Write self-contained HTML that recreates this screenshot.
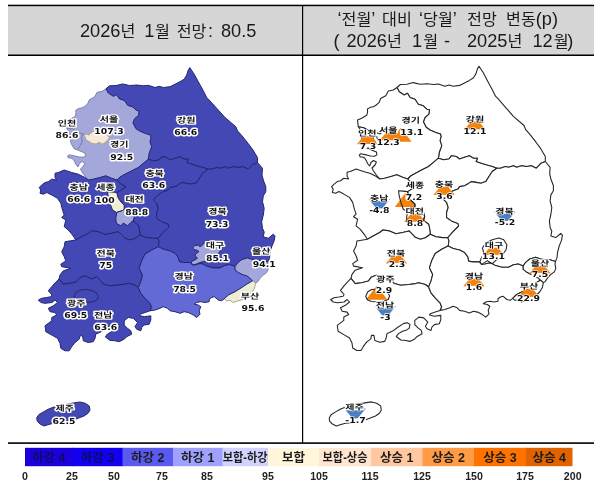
<!DOCTYPE html>
<html lang="ko"><head><meta charset="utf-8"><title>전망</title>
<style>
html,body{margin:0;padding:0;background:#fff}
svg{display:block}
.hd{font-family:"Liberation Sans","Noto Sans CJK KR",sans-serif;font-size:18.2px;fill:#1a1a1a}
.hk{font-size:16.2px}
.nm{font-family:"Liberation Sans","Noto Sans CJK KR",sans-serif;font-weight:bold;font-size:10px;fill:#111;stroke:#fff;stroke-width:3.2px;stroke-linejoin:round;paint-order:stroke;text-anchor:middle;text-rendering:geometricPrecision}
.vl{font-family:"DejaVu Sans","Liberation Sans",sans-serif;font-weight:bold;font-size:9.3px;fill:#111;stroke:#fff;stroke-width:3.2px;stroke-linejoin:round;paint-order:stroke;text-anchor:middle;text-rendering:geometricPrecision}
.lg{font-family:"Liberation Sans","Noto Sans CJK KR",sans-serif;font-weight:bold;font-size:12.5px;fill:#1c1c1c;text-anchor:middle}
.tk{font-family:"Liberation Sans","Noto Sans CJK KR",sans-serif;font-weight:bold;font-size:10.6px;fill:#222;text-anchor:middle}
.lm path{stroke-width:1;stroke-linejoin:round}
.rm path{fill:#fff;stroke:#262626;stroke-width:1.08;stroke-linejoin:round}
.r text{stroke-width:1.5px}
.ro path{fill:none}
</style></head><body>
<svg width="600" height="484" viewBox="0 0 600 484">
<rect width="600" height="484" fill="#fff"/>
<rect x="8" y="5" width="586" height="50" fill="#d6d6d6"/>
<rect x="8" y="4.7" width="586" height="1.5" fill="#000"/>
<rect x="8" y="54.5" width="586" height="1.5" fill="#000"/>
<rect x="302" y="5" width="1.2" height="438" fill="#000"/>
<rect x="8" y="442.3" width="586" height="1.6" fill="#000"/>
<text class="hd" y="37.4"><tspan x="80">2026<tspan class="hk">년</tspan></tspan> <tspan x="144.3">1<tspan class="hk" dx="0.6">월</tspan></tspan> <tspan x="176.7"><tspan class="hk">전망</tspan><tspan dx="1.5">:</tspan></tspan> <tspan x="221">80.5</tspan></text>
<text class="hd" y="24.8"><tspan x="337.5">‘<tspan class="hk">전월</tspan>’</tspan> <tspan class="hk" x="382">대비</tspan> <tspan x="419">‘<tspan class="hk">당월</tspan>’</tspan> <tspan class="hk" x="467">전망</tspan> <tspan x="506"><tspan class="hk">변동</tspan>(p)</tspan></text>
<text class="hd" y="47.4"><tspan x="333.5">(</tspan> <tspan x="346.5">2026<tspan class="hk">년</tspan></tspan> <tspan x="412">1<tspan class="hk" dx="1">월</tspan></tspan> <tspan x="444">-</tspan> <tspan x="467">2025<tspan class="hk">년</tspan></tspan> <tspan x="532.5">12<tspan class="hk" dx="1">월</tspan><tspan dx="-1.5">)</tspan></tspan></text>

<g class="lm">
<path d="M106.0 88.8L108.3 93.0L113.4 96.3L116.7 94.6L119.3 98.8L124.4 100.5L127.8 105.4L132.9 107.0L136.4 110.4L139.2 111.0L138.5 115.4L134.6 118.7L133.0 122.9L135.8 128.5L139.7 131.1L145.5 133.5L150.5 135.0L151.0 138.0L150.0 141.7L151.7 146.7L149.2 153.3L148.3 159.2L143.3 163.3L138.3 167.5L131.7 170.8L125.0 174.2L120.0 177.0L117.0 180.0L111.7 178.3L105.8 175.8L100.0 177.5L93.3 179.2L88.3 180.0L85.0 176.0L82.0 172.0L80.5 169.0L83.5 166.0L85.0 163.0L82.0 161.5L79.5 163.5L78.0 167.0L76.0 164.5L74.5 161.5L73.0 159.0L71.0 158.0L68.5 158.0L67.5 156.0L69.0 154.8L72.0 155.5L75.0 156.0L79.0 157.0L83.0 157.3L85.5 156.0L85.0 153.0L80.0 151.0L76.5 149.5L78.5 148.0L80.5 145.0L82.0 142.0L81.5 138.0L82.0 135.0L84.0 134.5L80.0 133.0L76.0 131.0L72.0 129.0L66.5 128.0L65.7 121.2L69.9 119.5L75.1 116.5L76.0 113.0L75.8 110.2L79.2 108.3L81.8 107.9L84.2 106.7L87.6 104.0L89.3 99.8L92.5 98.0L94.6 97.0L97.1 92.3L102.2 91.3Z" fill="#a3a7da" stroke="#7e80b4"/>
<path d="M66.5 128.0L72.0 129.0L76.0 131.0L80.0 133.0L84.0 134.5L82.0 135.0L81.5 138.0L82.0 142.0L80.5 145.0L78.5 148.0L76.5 149.5L74.5 149.0L72.5 146.0L71.0 143.0L70.5 140.0L69.0 135.0L68.0 130.0Z" fill="#a3a7da" stroke="#7e80b4"/>
<path d="M235.0 266.5L237.5 262.9L241.7 259.6L247.5 257.9L252.5 259.6L258.0 260.5L263.0 260.5L268.0 262.0L267.5 265.0L268.3 269.2L266.7 272.5L263.3 275.0L260.0 278.3L257.5 282.0L255.5 283.3L252.5 280.8L250.0 278.3L246.7 275.8L243.3 275.0L238.3 272.5L235.0 270.0Z" fill="#a3a7da" stroke="#7e80b4"/>
<path d="M252.5 280.8L255.5 283.3L254.5 288.3L251.7 292.5L248.0 296.0L243.0 299.5L237.5 301.0L233.3 302.5L230.0 300.3L226.5 300.8L224.2 298.8L228.3 295.0L235.0 291.7L241.7 287.5L246.7 284.2Z" fill="#eeecd2" stroke="#a9a58e"/>
<path d="M84.0 134.5L86.0 134.0L89.0 135.0L92.0 132.0L95.0 130.5L99.0 130.0L103.0 131.0L106.0 133.5L108.0 136.0L109.5 137.5L108.0 139.5L106.0 142.0L102.5 144.0L99.0 142.5L96.0 144.0L92.0 143.5L89.0 141.5L86.0 140.0L85.0 137.0Z" fill="#f6e8d6" stroke="#a9a58e"/>
<path d="M106.0 88.8L109.5 85.8L116.0 85.6L122.7 83.9L129.5 85.5L137.0 85.0L143.3 85.8L148.3 85.3L155.0 87.5L159.2 86.3L163.3 87.5L170.0 86.7L175.0 84.2L180.0 81.7L184.2 79.2L186.7 75.0L188.3 70.0L189.8 67.6L194.2 74.2L198.3 81.7L203.3 90.8L206.7 97.5L209.2 100.0L216.7 108.3L225.0 117.5L235.8 126.7L237.5 130.8L242.0 135.8L248.0 143.3L253.0 150.0L257.5 157.5L257.5 162.5L253.3 164.2L248.3 169.2L243.3 166.7L238.3 167.5L233.3 166.7L228.3 168.3L225.0 166.7L220.0 168.3L216.7 167.5L211.7 169.2L208.0 169.2L203.3 167.5L196.7 165.8L191.7 164.2L186.7 162.5L188.3 159.2L184.2 159.2L180.0 156.7L175.0 158.3L170.0 160.0L166.7 157.5L161.7 156.7L159.2 160.0L153.3 160.8L148.3 159.2L149.2 153.3L151.7 146.7L150.0 141.7L151.0 138.0L150.5 135.0L145.5 133.5L139.7 131.1L135.8 128.5L133.0 122.9L134.6 118.7L138.5 115.4L139.2 111.0L136.4 110.4L132.9 107.0L127.8 105.4L124.4 100.5L119.3 98.8L116.7 94.6L113.4 96.3L108.3 93.0Z" fill="#4448b5" stroke="#23276f"/>
<path d="M148.3 159.2L153.3 160.8L159.2 160.0L161.7 156.7L166.7 157.5L170.0 160.0L175.0 158.3L180.0 156.7L184.2 159.2L188.3 159.2L186.7 162.5L191.7 164.2L196.7 165.8L203.3 167.5L208.0 169.2L203.3 172.5L200.0 177.5L196.7 182.5L191.7 184.2L186.7 183.3L181.7 182.5L178.3 185.0L175.0 186.7L170.0 187.5L168.3 190.0L163.3 191.7L158.3 195.0L153.3 200.0L156.7 203.3L158.3 208.3L156.7 213.3L156.7 218.3L161.7 221.7L168.3 224.2L169.0 227.0L167.5 228.3L163.3 232.5L160.0 236.0L158.0 238.3L152.5 238.3L145.8 237.5L140.0 235.0L139.2 228.5L138.3 225.1L135.0 222.6L133.0 221.0L134.2 217.5L133.3 213.3L128.3 210.8L124.2 209.2L124.2 205.0L121.0 202.0L118.3 198.3L116.7 192.5L121.7 189.5L125.8 187.0L120.8 184.0L117.0 180.0L120.0 177.0L125.0 174.2L131.7 170.8L138.3 167.5L143.3 163.3Z" fill="#4448b5" stroke="#23276f"/>
<path d="M88.3 180.0L93.3 179.2L100.0 177.5L105.8 175.8L111.7 178.3L117.0 180.0L120.8 184.0L125.8 187.0L121.7 189.5L116.7 192.5L118.3 198.3L121.0 202.0L124.2 205.0L124.2 209.2L128.3 210.8L133.3 213.3L134.2 217.5L133.0 221.0L135.0 222.6L138.3 225.1L139.2 228.5L140.0 235.0L135.0 238.5L130.0 240.0L125.0 238.3L120.8 234.2L118.3 231.7L111.7 233.3L105.0 234.5L98.3 231.7L91.7 230.8L88.3 233.3L81.7 236.7L75.8 240.0L72.5 235.0L68.3 230.0L64.2 226.7L65.8 220.0L61.7 217.5L64.2 215.0L62.5 210.0L60.8 203.3L57.5 198.3L51.7 195.0L46.7 192.5L43.3 194.2L40.0 193.3L40.8 190.0L39.2 187.5L41.7 185.0L45.0 182.5L48.3 181.7L51.7 179.2L56.7 180.0L55.0 177.5L55.0 173.3L58.3 172.5L64.2 170.0L71.7 172.5L78.3 174.2L85.0 177.5Z" fill="#4448b5" stroke="#23276f"/>
<path d="M75.8 240.0L81.7 236.7L88.3 233.3L91.7 230.8L98.3 231.7L105.0 234.5L111.7 233.3L118.3 231.7L120.8 234.2L125.0 238.3L130.0 240.0L135.0 238.5L140.0 235.0L145.8 237.5L152.5 238.3L158.0 238.3L159.2 241.7L158.3 246.7L151.7 250.0L145.0 254.2L141.7 260.8L139.2 268.3L142.5 275.0L140.8 281.7L138.3 287.5L135.0 285.0L128.3 283.3L125.0 284.2L118.3 285.0L110.0 285.8L103.3 284.2L100.0 280.0L96.7 276.7L91.7 279.2L85.0 275.8L80.0 277.5L76.7 281.7L70.0 283.3L63.3 284.2L59.0 279.0L60.0 275.0L63.3 270.8L70.8 268.3L61.7 266.7L60.8 264.2L65.8 260.8L64.2 256.7L61.7 251.7L64.2 246.7L65.0 241.7Z" fill="#4448b5" stroke="#23276f"/>
<path d="M59.0 279.0L63.3 284.2L70.0 283.3L76.7 281.7L80.0 277.5L85.0 275.8L91.7 279.2L96.7 276.7L100.0 280.0L103.3 284.2L110.0 285.8L118.3 285.0L125.0 284.2L128.3 283.3L135.0 285.0L138.3 287.5L140.8 293.3L145.0 298.3L150.0 303.3L151.7 307.5L150.0 310.8L145.0 312.5L140.0 314.2L139.2 315.5L144.2 316.7L150.8 315.8L150.8 320.0L149.2 324.2L144.2 325.0L141.7 327.5L140.8 330.8L136.7 329.2L135.0 326.7L137.5 322.5L135.0 320.0L133.3 318.3L128.3 317.5L124.2 320.8L124.2 325.0L127.5 328.3L130.8 330.8L131.7 334.2L126.7 336.7L124.2 339.2L119.2 341.7L115.0 340.8L110.0 340.3L105.2 336.8L107.5 334.0L111.6 331.6L116.0 330.3L118.5 328.5L119.3 324.8L116.5 323.2L113.0 323.8L106.5 327.9L101.5 331.5L98.5 333.0L95.8 334.0L95.0 338.3L93.3 341.7L88.3 342.5L83.3 340.8L82.5 335.8L80.0 335.8L79.2 339.2L75.0 342.5L71.7 346.7L69.2 350.8L65.0 350.8L60.8 348.3L60.0 343.3L57.5 338.3L51.7 335.0L45.8 331.7L45.0 325.8L48.3 323.3L51.7 320.8L51.7 317.5L56.7 315.0L55.0 312.5L50.0 311.7L48.3 308.3L53.3 305.8L57.5 302.5L55.0 300.0L52.0 302.5L45.0 303.3L40.8 302.5L38.3 300.0L41.7 298.3L46.7 297.5L50.8 296.7L52.0 295.0L48.3 290.8L51.7 286.7L55.0 283.0Z" fill="#4448b5" stroke="#23276f"/>
<path d="M208.0 169.2L211.7 169.2L216.7 167.5L220.0 168.3L225.0 166.7L228.3 168.3L233.3 166.7L238.3 167.5L243.3 166.7L248.3 169.2L253.3 164.2L257.5 162.5L262.5 168.3L262.0 175.0L263.3 180.0L265.8 186.7L265.8 191.7L263.3 195.8L262.5 201.7L264.2 208.3L263.3 215.0L261.7 221.7L262.5 228.3L264.2 232.0L263.3 236.7L268.3 238.3L273.3 234.2L275.0 235.8L274.2 240.8L271.7 246.7L270.0 253.3L269.5 258.3L268.0 262.0L263.0 260.5L258.0 260.5L252.5 259.6L247.5 257.9L241.7 259.6L237.5 262.9L235.0 266.5L230.0 264.6L225.0 265.4L220.0 267.9L213.3 267.9L206.7 266.2L203.5 264.3L200.0 263.5L196.0 264.6L192.5 265.0L190.0 262.5L183.3 262.5L179.2 261.7L178.3 257.5L175.0 253.3L170.0 250.8L163.3 249.2L158.3 246.7L159.2 241.7L158.0 238.3L160.0 236.0L163.3 232.5L167.5 228.3L169.0 227.0L168.3 224.2L161.7 221.7L156.7 218.3L156.7 213.3L158.3 208.3L156.7 203.3L153.3 200.0L158.3 195.0L163.3 191.7L168.3 190.0L170.0 187.5L175.0 186.7L178.3 185.0L181.7 182.5L186.7 183.3L191.7 184.2L196.7 182.5L200.0 177.5L203.3 172.5Z" fill="#4448b5" stroke="#23276f"/>
<path d="M158.3 246.7L163.3 249.2L170.0 250.8L175.0 253.3L178.3 257.5L179.2 261.7L183.3 262.5L190.0 262.5L192.5 265.0L196.0 264.6L200.0 263.5L203.5 264.3L206.7 266.2L213.3 267.9L220.0 267.9L225.0 265.4L230.0 264.6L235.0 266.5L235.0 270.0L238.3 272.5L243.3 275.0L246.7 275.8L250.0 278.3L252.5 280.8L246.7 284.2L241.7 287.5L235.0 291.7L228.3 295.0L224.2 298.8L221.7 300.8L218.3 300.0L214.2 296.7L211.7 297.5L209.2 299.2L209.2 301.7L205.0 302.5L200.8 301.7L196.7 302.5L194.2 304.2L198.3 305.0L200.8 306.7L199.2 310.8L200.0 314.2L196.7 317.5L193.3 315.0L191.7 314.2L188.3 312.5L184.2 311.7L180.0 313.3L175.0 311.7L170.0 310.8L167.5 308.3L163.3 306.7L160.0 308.3L155.0 310.0L150.0 310.8L151.7 307.5L150.0 303.3L145.0 298.3L140.8 293.3L138.3 287.5L140.8 281.7L142.5 275.0L139.2 268.3L141.7 260.8L145.0 254.2L151.7 250.0Z" fill="#646ad5" stroke="#23276f"/>
<path d="M107.5 191.7L112.0 192.0L116.7 192.5L118.3 198.3L121.0 202.0L124.2 205.0L124.2 209.2L122.5 210.5L116.7 212.5L112.5 210.0L110.0 203.3L108.3 196.7Z" fill="#f1efd2" stroke="#23276f"/>
<path d="M116.7 212.5L122.5 210.5L124.2 209.2L128.3 210.8L133.3 213.3L134.2 217.5L133.0 221.0L130.8 222.5L127.5 225.8L123.3 223.0L120.8 225.8L116.3 223.3L115.8 218.3Z" fill="#a3a7da" stroke="#23276f"/>
<path d="M192.5 265.0L191.5 262.5L192.0 261.0L195.0 260.0L197.5 258.0L196.0 257.0L195.0 255.0L196.5 253.5L199.0 251.5L197.5 250.5L194.0 249.5L192.5 248.0L195.0 245.5L198.5 245.0L199.5 246.5L201.5 246.0L204.0 243.0L208.0 241.5L214.0 241.0L219.0 242.5L221.0 246.0L220.5 250.5L218.0 254.0L214.0 258.0L208.0 261.0L203.5 261.5L200.0 262.5L196.5 264.0Z" fill="#a3a7da" stroke="#23276f"/>
<path d="M74.0 297.0L76.0 292.5L80.0 290.0L86.7 289.5L92.0 290.5L96.5 293.0L98.5 296.5L97.0 300.0L92.0 302.0L86.0 302.5L80.0 302.0L76.0 300.5Z" fill="#4448b5" stroke="#23276f"/>
<path d="M36.7 418.0L38.7 414.7L43.3 412.0L48.0 409.3L54.7 406.7L61.3 405.3L68.0 404.0L74.7 402.7L80.0 402.0L85.3 403.3L89.3 406.0L90.0 410.0L88.0 413.3L84.0 416.0L78.7 418.0L73.3 420.0L66.7 421.3L60.0 422.7L53.3 423.3L48.0 424.7L44.0 426.0L40.0 424.0L37.3 421.3Z" fill="#4448b5" stroke="#23276f"/>
</g>
<text class="nm" transform="translate(67.0 123.0) scale(1 0.78)" y="3.5">인천</text><text class="vl" transform="translate(67.0 134.8) scale(1 0.88)" y="3.3">86.6</text>
<text class="nm" transform="translate(109.0 119.0) scale(1 0.78)" y="3.5">서울</text><text class="vl" transform="translate(109.0 131.5) scale(1 0.88)" y="3.3">107.3</text>
<text class="nm" transform="translate(119.2 144.3) scale(1 0.78)" y="3.5">경기</text><text class="vl" transform="translate(121.7 156.8) scale(1 0.88)" y="3.3">92.5</text>
<text class="nm" transform="translate(186.3 120.0) scale(1 0.78)" y="3.5">강원</text><text class="vl" transform="translate(185.8 132.0) scale(1 0.88)" y="3.3">66.6</text>
<text class="nm" transform="translate(154.6 173.3) scale(1 0.78)" y="3.5">충북</text><text class="vl" transform="translate(153.8 185.4) scale(1 0.88)" y="3.3">63.6</text>
<text class="nm" transform="translate(78.8 187.0) scale(1 0.78)" y="3.5">충남</text><text class="vl" transform="translate(78.8 199.5) scale(1 0.88)" y="3.3">66.6</text>
<text class="nm" transform="translate(105.4 187.5) scale(1 0.78)" y="3.5">세종</text><text class="vl" transform="translate(105.0 200.0) scale(1 0.88)" y="3.3">100</text>
<text class="nm" transform="translate(134.6 199.6) scale(1 0.78)" y="3.5">대전</text><text class="vl" transform="translate(136.7 212.5) scale(1 0.88)" y="3.3">88.8</text>
<text class="nm" transform="translate(217.5 211.2) scale(1 0.78)" y="3.5">경북</text><text class="vl" transform="translate(217.1 223.8) scale(1 0.88)" y="3.3">73.3</text>
<text class="nm" transform="translate(215.0 245.6) scale(1 0.78)" y="3.5">대구</text><text class="vl" transform="translate(217.5 257.8) scale(1 0.88)" y="3.3">85.1</text>
<text class="nm" transform="translate(261.3 251.7) scale(1 0.78)" y="3.5">울산</text><text class="vl" transform="translate(264.2 263.8) scale(1 0.88)" y="3.3">94.1</text>
<text class="nm" transform="translate(250.0 296.3) scale(1 0.78)" y="3.5">부산</text><text class="vl" transform="translate(252.9 308.0) scale(1 0.88)" y="3.3">95.6</text>
<text class="nm" transform="translate(183.8 276.3) scale(1 0.78)" y="3.5">경남</text><text class="vl" transform="translate(184.6 288.8) scale(1 0.88)" y="3.3">78.5</text>
<text class="nm" transform="translate(105.8 253.3) scale(1 0.78)" y="3.5">전북</text><text class="vl" transform="translate(105.8 265.4) scale(1 0.88)" y="3.3">75</text>
<text class="nm" transform="translate(76.3 303.0) scale(1 0.78)" y="3.5">광주</text><text class="vl" transform="translate(75.8 315.0) scale(1 0.88)" y="3.3">69.5</text>
<text class="nm" transform="translate(103.3 315.0) scale(1 0.78)" y="3.5">전남</text><text class="vl" transform="translate(105.8 326.7) scale(1 0.88)" y="3.3">63.6</text>
<text class="nm" transform="translate(64.7 408.7) scale(1 0.78)" y="3.5">제주</text><text class="vl" transform="translate(64.0 420.7) scale(1 0.88)" y="3.3">62.5</text>
<g class="rm">
<path d="M397.0 87.5L400.4 84.5L406.8 84.3L413.3 82.6L420.0 84.2L427.3 83.7L433.5 84.5L438.4 84.0L444.9 86.2L449.0 85.0L453.1 86.2L459.6 85.4L464.5 82.9L469.4 80.4L473.5 77.8L476.0 73.6L477.5 68.6L479.0 66.2L483.3 72.8L487.3 80.4L492.2 89.5L495.5 96.2L498.0 98.7L505.3 107.1L513.4 116.3L524.0 125.5L525.7 129.7L530.1 134.7L536.0 142.2L540.9 148.9L545.3 156.5L545.3 161.5L541.1 163.2L536.3 168.2L531.4 165.7L526.5 166.5L521.6 165.7L516.7 167.3L513.4 165.7L508.6 167.3L505.3 166.5L500.4 168.2L496.8 168.2L492.2 166.5L485.8 164.8L480.9 163.2L476.0 161.5L477.5 158.2L473.5 158.2L469.4 155.7L464.5 157.3L459.6 159.0L456.4 156.5L451.5 155.7L449.0 159.0L443.3 159.8L438.4 158.2L439.3 152.2L441.7 145.6L440.0 140.6L441.0 136.9L440.5 133.9L435.6 132.4L430.0 130.0L426.1 127.3L423.4 121.7L425.0 117.5L428.8 114.2L429.5 109.8L426.7 109.2L423.3 105.8L418.3 104.2L415.0 99.2L410.0 97.5L407.5 93.3L404.2 95.0L399.2 91.7Z"/>
<path d="M397.0 87.5L399.2 91.7L404.2 95.0L407.5 93.3L410.0 97.5L415.0 99.2L418.3 104.2L423.3 105.8L426.7 109.2L429.5 109.8L428.8 114.2L425.0 117.5L423.4 121.7L426.1 127.3L430.0 130.0L435.6 132.4L440.5 133.9L441.0 136.9L440.0 140.6L441.7 145.6L439.3 152.2L438.4 158.2L433.5 162.3L428.6 166.5L422.1 169.8L415.6 173.2L410.7 176.0L407.7 179.0L402.6 177.3L396.8 174.8L391.1 176.5L384.6 178.2L379.7 179.0L376.4 175.0L373.5 171.0L372.0 168.0L375.0 165.0L376.4 162.0L373.5 160.5L371.0 162.5L369.6 166.0L367.6 163.5L366.2 160.5L364.7 158.0L362.7 157.0L360.3 157.0L359.3 154.9L360.8 153.7L363.7 154.4L366.6 154.9L370.6 156.0L374.5 156.3L376.9 154.9L376.4 151.9L371.5 149.9L368.1 148.4L370.1 146.9L372.0 143.9L373.5 140.9L373.0 136.9L373.5 133.9L375.5 133.4L371.5 131.9L367.6 129.9L363.7 127.8L358.3 126.8L357.5 120.0L361.7 118.3L366.7 115.3L367.6 111.8L367.4 109.0L370.8 107.1L373.3 106.7L375.6 105.5L379.0 102.7L380.6 98.5L383.8 96.7L385.8 95.7L388.3 91.0L393.3 90.0Z"/>
<path d="M358.3 126.8L363.7 127.8L367.6 129.9L371.5 131.9L375.5 133.4L373.5 133.9L373.0 136.9L373.5 140.9L372.0 143.9L370.1 146.9L368.1 148.4L366.2 147.9L364.2 144.9L362.7 141.9L362.2 138.9L360.8 133.9L359.8 128.8Z"/>
<path d="M438.4 158.2L443.3 159.8L449.0 159.0L451.5 155.7L456.4 156.5L459.6 159.0L464.5 157.3L469.4 155.7L473.5 158.2L477.5 158.2L476.0 161.5L480.9 163.2L485.8 164.8L492.2 166.5L496.8 168.2L492.2 171.5L489.0 176.5L485.8 181.6L480.9 183.3L476.0 182.4L471.1 181.6L467.7 184.1L464.5 185.8L459.6 186.6L458.0 189.1L453.1 190.8L448.2 194.1L443.3 199.1L446.6 202.4L448.2 207.5L446.6 212.5L446.6 217.5L451.5 220.9L458.0 223.4L458.6 226.2L457.2 227.5L453.1 231.7L449.8 235.3L447.9 237.6L442.5 237.6L435.9 236.8L430.3 234.3L429.5 227.7L428.6 224.3L425.4 221.8L423.4 220.2L424.6 216.7L423.7 212.5L418.8 210.0L414.8 208.4L414.8 204.1L411.7 201.1L409.0 197.4L407.5 191.6L412.3 188.6L416.4 186.1L411.5 183.1L407.7 179.0L410.7 176.0L415.6 173.2L422.1 169.8L428.6 166.5L433.5 162.3Z"/>
<path d="M379.7 179.0L384.6 178.2L391.1 176.5L396.8 174.8L402.6 177.3L407.7 179.0L411.5 183.1L416.4 186.1L412.3 188.6L407.5 191.6L409.0 197.4L411.7 201.1L414.8 204.1L414.8 208.4L418.8 210.0L423.7 212.5L424.6 216.7L423.4 220.2L425.4 221.8L428.6 224.3L429.5 227.7L430.3 234.3L425.4 237.8L420.5 239.3L415.6 237.6L411.5 233.5L409.0 230.9L402.6 232.5L396.0 233.8L389.4 230.9L383.0 230.0L379.7 232.5L373.2 236.0L367.4 239.3L364.2 234.3L360.1 229.2L356.1 225.9L357.6 219.2L353.6 216.7L356.1 214.2L354.4 209.2L352.7 202.4L349.5 197.4L343.8 194.1L338.9 191.6L335.6 193.3L332.4 192.4L333.2 189.1L331.6 186.6L334.1 184.1L337.3 181.6L340.5 180.7L343.8 178.2L348.7 179.0L347.1 176.5L347.1 172.3L350.3 171.5L356.1 169.0L363.4 171.5L369.9 173.2L376.4 176.5Z"/>
<path d="M367.4 239.3L373.2 236.0L379.7 232.5L383.0 230.0L389.4 230.9L396.0 233.8L402.6 232.5L409.0 230.9L411.5 233.5L415.6 237.6L420.5 239.3L425.4 237.8L430.3 234.3L435.9 236.8L442.5 237.6L447.9 237.6L449.0 241.0L448.2 246.0L441.7 249.3L435.2 253.5L431.9 260.2L429.5 267.7L432.7 274.4L431.0 281.1L428.6 287.0L425.4 284.5L418.8 282.7L415.6 283.6L409.0 284.5L400.9 285.3L394.3 283.6L391.1 279.4L387.9 276.1L383.0 278.6L376.4 275.2L371.5 276.9L368.3 281.1L361.7 282.7L355.2 283.6L351.0 278.4L352.0 274.4L355.2 270.2L362.5 267.7L353.6 266.1L352.7 263.6L357.6 260.2L356.1 256.0L353.6 251.0L356.1 246.0L356.9 241.0Z"/>
<path d="M351.0 278.4L355.2 283.6L361.7 282.7L368.3 281.1L371.5 276.9L376.4 275.2L383.0 278.6L387.9 276.1L391.1 279.4L394.3 283.6L400.9 285.3L409.0 284.5L415.6 283.6L418.8 282.7L425.4 284.5L428.6 287.0L431.0 292.8L435.2 297.8L440.0 302.8L441.7 307.0L440.0 310.4L435.2 312.1L430.3 313.8L429.5 315.1L434.4 316.3L440.8 315.4L440.8 319.6L439.3 323.8L434.4 324.6L431.9 327.1L431.0 330.4L427.0 328.8L425.4 326.3L427.8 322.1L425.4 319.6L423.7 317.9L418.8 317.1L414.8 320.4L414.8 324.6L418.0 327.9L421.3 330.4L422.1 333.8L417.2 336.4L414.8 338.9L409.9 341.4L405.8 340.5L400.9 340.0L396.2 336.5L398.5 333.6L402.5 331.2L406.8 329.9L409.2 328.1L410.0 324.4L407.3 322.8L403.8 323.4L397.5 327.5L392.6 331.1L389.6 332.6L387.0 333.6L386.2 338.0L384.6 341.4L379.7 342.2L374.8 340.5L374.0 335.4L371.5 335.4L370.8 338.9L366.6 342.2L363.4 346.4L361.0 350.5L356.9 350.5L352.7 348.0L352.0 343.0L349.5 338.0L343.8 334.6L338.1 331.3L337.3 325.4L340.5 322.9L343.8 320.4L343.8 317.1L348.7 314.6L347.1 312.1L342.2 311.3L340.5 307.8L345.4 305.3L349.5 302.0L347.1 299.5L344.1 302.0L337.3 302.8L333.2 302.0L330.7 299.5L334.1 297.8L338.9 297.0L343.0 296.2L344.1 294.5L340.5 290.3L343.8 286.2L347.1 282.4Z"/>
<path d="M496.8 168.2L500.4 168.2L505.3 166.5L508.6 167.3L513.4 165.7L516.7 167.3L521.6 165.7L526.5 166.5L531.4 165.7L536.3 168.2L541.1 163.2L545.3 161.5L550.1 167.3L549.7 174.0L550.9 179.0L553.4 185.8L553.4 190.8L550.9 194.9L550.1 200.8L551.8 207.5L550.9 214.2L549.4 220.9L550.1 227.5L551.8 231.2L550.9 236.0L555.8 237.6L560.7 233.5L562.4 235.1L561.6 240.1L559.2 246.0L557.5 252.6L557.0 257.6L555.5 261.4L550.6 259.9L545.7 259.9L540.4 259.0L535.5 257.2L529.8 259.0L525.7 262.3L523.2 265.9L518.3 264.0L513.4 264.8L508.6 267.3L502.0 267.3L495.5 265.6L492.4 263.7L489.0 262.9L485.1 264.0L481.6 264.4L479.2 261.9L472.6 261.9L468.6 261.1L467.7 256.8L464.5 252.6L459.6 250.1L453.1 248.5L448.2 246.0L449.0 241.0L447.9 237.6L449.8 235.3L453.1 231.7L457.2 227.5L458.6 226.2L458.0 223.4L451.5 220.9L446.6 217.5L446.6 212.5L448.2 207.5L446.6 202.4L443.3 199.1L448.2 194.1L453.1 190.8L458.0 189.1L459.6 186.6L464.5 185.8L467.7 184.1L471.1 181.6L476.0 182.4L480.9 183.3L485.8 181.6L489.0 176.5L492.2 171.5Z"/>
<path d="M448.2 246.0L453.1 248.5L459.6 250.1L464.5 252.6L467.7 256.8L468.6 261.1L472.6 261.9L479.2 261.9L481.6 264.4L485.1 264.0L489.0 262.9L492.4 263.7L495.5 265.6L502.0 267.3L508.6 267.3L513.4 264.8L518.3 264.0L523.2 265.9L523.2 269.4L526.5 271.9L531.4 274.4L534.7 275.2L537.9 277.7L540.4 280.2L534.7 283.6L529.8 287.0L523.2 291.2L516.7 294.5L512.7 298.3L510.2 300.3L506.9 299.5L502.9 296.2L500.4 297.0L498.0 298.7L498.0 301.2L493.9 302.0L489.8 301.2L485.8 302.0L483.3 303.7L487.3 304.5L489.8 306.2L488.2 310.4L489.0 313.8L485.8 317.1L482.4 314.6L480.9 313.8L477.5 312.1L473.5 311.3L469.4 312.9L464.5 311.3L459.6 310.4L457.2 307.8L453.1 306.2L449.8 307.8L444.9 309.5L440.0 310.4L441.7 307.0L440.0 302.8L435.2 297.8L431.0 292.8L428.6 287.0L431.0 281.1L432.7 274.4L429.5 267.7L431.9 260.2L435.2 253.5L441.7 249.3Z"/>
<path d="M523.2 265.9L525.7 262.3L529.8 259.0L535.5 257.2L540.4 259.0L545.7 259.9L550.6 259.9L555.5 261.4L555.0 264.4L555.8 268.6L554.3 271.9L550.9 274.4L547.7 277.7L545.3 281.4L543.3 282.7L540.4 280.2L537.9 277.7L534.7 275.2L531.4 274.4L526.5 271.9L523.2 269.4Z"/>
<path d="M540.4 280.2L543.3 282.7L542.3 287.8L539.6 292.0L536.0 295.5L531.1 299.0L525.7 300.5L521.6 302.0L518.3 299.8L514.9 300.3L512.7 298.3L516.7 294.5L523.2 291.2L529.8 287.0L534.7 283.6Z"/>
<path d="M375.5 133.4L377.4 132.9L380.3 133.9L383.3 130.9L386.2 129.3L390.1 128.8L394.0 129.9L397.0 132.4L398.9 134.9L400.4 136.4L398.9 138.4L397.0 140.9L393.6 142.9L390.1 141.4L387.2 142.9L383.3 142.4L380.3 140.4L377.4 138.9L376.4 135.9Z"/>
<path d="M481.6 264.4L480.0 261.4L481.6 257.2L484.1 253.9L482.4 248.0L485.8 243.0L492.2 239.7L498.8 238.0L503.7 239.7L506.9 244.7L506.1 249.7L503.7 253.0L500.4 257.2L495.5 260.6L492.4 263.7L487.3 260.6L484.1 262.9Z"/>
<path d="M329.2 418.0L331.1 414.7L335.6 411.9L340.2 409.2L346.8 406.6L353.2 405.2L359.8 403.9L366.3 402.6L371.5 401.9L376.7 403.2L380.6 405.9L381.3 409.9L379.4 413.3L375.5 416.0L370.3 418.0L365.0 420.0L358.5 421.3L352.0 422.7L345.4 423.3L340.2 424.7L336.3 426.0L332.4 424.0L329.7 421.3Z"/>
</g>
<path d="M390.1 141.7L411.6 141.7L400.8 127.7Z" fill="#f5820a"/>
<path d="M379.6 140.6L401.1 140.6L390.3 127.6Z" fill="#f5820a"/>
<path d="M356.9 144.3L378.4 144.3L367.6 131.3Z" fill="#f5820a"/>
<path d="M464.2 129.7L485.8 129.7L475.0 116.7Z" fill="#f5820a"/>
<path d="M368.6 199.0L390.1 199.0L379.3 212.0Z" fill="#4a7fc4"/>
<path d="M394.8 206.9L415.8 206.9L405.3 192.9Z" fill="#f5820a"/>
<path d="M404.1 222.1L425.6 222.1L414.9 209.1Z" fill="#f5820a"/>
<path d="M433.4 195.1L454.9 195.1L444.2 182.1Z" fill="#f5820a"/>
<path d="M494.0 211.6L515.5 211.6L504.8 224.6Z" fill="#4a7fc4"/>
<path d="M483.0 255.6L504.5 255.6L493.8 242.6Z" fill="#f5820a"/>
<path d="M529.2 273.5L550.8 273.5L540.0 260.5Z" fill="#f5820a"/>
<path d="M463.2 286.5L484.8 286.5L474.0 273.5Z" fill="#f5820a"/>
<path d="M518.0 297.0L539.5 297.0L528.8 284.0Z" fill="#f5820a"/>
<path d="M385.8 263.5L407.2 263.5L396.5 250.5Z" fill="#f5820a"/>
<path d="M365.9 299.8L387.4 299.8L376.7 285.8Z" fill="#f5820a"/>
<path d="M374.5 306.0L396.0 306.0L385.2 319.0Z" fill="#4a7fc4"/>
<path d="M344.2 408.5L365.8 408.5L355.0 421.5Z" fill="#4a7fc4"/>
<g class="rm ro">
<path d="M398.5 190.8L402.9 191.1L407.5 191.6L409.0 197.4L411.7 201.1L414.8 204.1L414.8 208.4L413.1 209.7L407.5 211.7L403.3 209.2L400.9 202.4L399.2 195.8Z"/>
<path d="M407.5 211.7L413.1 209.7L414.8 208.4L418.8 210.0L423.7 212.5L424.6 216.7L423.4 220.2L421.3 221.7L418.0 225.0L413.9 222.2L411.5 225.0L407.1 222.5L406.6 217.5Z"/>
<path d="M365.7 296.5L367.6 292.0L371.5 289.5L378.1 289.0L383.3 290.0L387.7 292.5L389.6 296.0L388.2 299.5L383.3 301.5L377.4 302.0L371.5 301.5L367.6 300.0Z"/>
</g>
<g class="r">
<rect x="400.9" y="116.8" width="19.6" height="6.3" fill="#fff"/><rect x="399.9" y="130.1" width="23.5" height="4.2" fill="#fff"/><text class="nm" transform="translate(410.7 120.3) scale(1 0.78)" y="3.5">경기</text><text class="vl" transform="translate(411.7 131.7) scale(1 0.88)" y="3.3">13.1</text>
<rect x="378.5" y="126.8" width="19.6" height="6.3" fill="#fff"/><rect x="376.5" y="140.4" width="23.5" height="4.2" fill="#fff"/><text class="nm" transform="translate(388.3 130.3) scale(1 0.78)" y="3.5">서울</text><text class="vl" transform="translate(388.3 142.0) scale(1 0.88)" y="3.3">12.3</text>
<rect x="357.5" y="129.8" width="19.6" height="6.3" fill="#fff"/><rect x="359.5" y="144.1" width="17.1" height="4.2" fill="#fff"/><text class="nm" transform="translate(367.3 133.3) scale(1 0.78)" y="3.5">인천</text><text class="vl" transform="translate(368.0 145.7) scale(1 0.88)" y="3.3">7.3</text>
<rect x="465.2" y="115.3" width="19.6" height="6.3" fill="#fff"/><rect x="463.2" y="129.4" width="23.5" height="4.2" fill="#fff"/><text class="nm" transform="translate(475.0 118.8) scale(1 0.78)" y="3.5">강원</text><text class="vl" transform="translate(475.0 131.0) scale(1 0.88)" y="3.3">12.1</text>
<rect x="369.5" y="194.8" width="19.6" height="6.3" fill="#fff"/><rect x="368.8" y="208.4" width="20.9" height="4.2" fill="#fff"/><text class="nm" transform="translate(379.3 198.3) scale(1 0.78)" y="3.5">충남</text><text class="vl" transform="translate(379.3 210.0) scale(1 0.88)" y="3.3">-4.8</text>
<rect x="405.2" y="181.5" width="19.6" height="6.3" fill="#fff"/><rect x="405.5" y="195.4" width="17.1" height="4.2" fill="#fff"/><text class="nm" transform="translate(415.0 185.0) scale(1 0.78)" y="3.5">세종</text><text class="vl" transform="translate(414.0 197.0) scale(1 0.88)" y="3.3">7.2</text>
<rect x="404.9" y="207.8" width="19.6" height="6.3" fill="#fff"/><rect x="406.5" y="221.7" width="17.1" height="4.2" fill="#fff"/><text class="nm" transform="translate(414.7 211.3) scale(1 0.78)" y="3.5">대전</text><text class="vl" transform="translate(415.0 223.3) scale(1 0.88)" y="3.3">8.8</text>
<rect x="434.2" y="180.5" width="19.6" height="6.3" fill="#fff"/><rect x="435.9" y="194.9" width="17.1" height="4.2" fill="#fff"/><text class="nm" transform="translate(444.0 184.0) scale(1 0.78)" y="3.5">충북</text><text class="vl" transform="translate(444.4 196.5) scale(1 0.88)" y="3.3">3.6</text>
<rect x="494.7" y="207.5" width="19.6" height="6.3" fill="#fff"/><rect x="494.5" y="220.9" width="20.9" height="4.2" fill="#fff"/><text class="nm" transform="translate(504.5 211.0) scale(1 0.78)" y="3.5">경북</text><text class="vl" transform="translate(505.0 222.5) scale(1 0.88)" y="3.3">-5.2</text>
<rect x="484.2" y="241.5" width="19.6" height="6.3" fill="#fff"/><rect x="481.7" y="254.9" width="23.5" height="4.2" fill="#fff"/><text class="nm" transform="translate(494.0 245.0) scale(1 0.78)" y="3.5">대구</text><text class="vl" transform="translate(493.5 256.5) scale(1 0.88)" y="3.3">13.1</text>
<rect x="530.2" y="259.5" width="19.6" height="6.3" fill="#fff"/><rect x="531.5" y="272.9" width="17.1" height="4.2" fill="#fff"/><text class="nm" transform="translate(540.0 263.0) scale(1 0.78)" y="3.5">울산</text><text class="vl" transform="translate(540.0 274.5) scale(1 0.88)" y="3.3">7.5</text>
<rect x="464.2" y="272.5" width="19.6" height="6.3" fill="#fff"/><rect x="465.5" y="285.9" width="17.1" height="4.2" fill="#fff"/><text class="nm" transform="translate(474.0 276.0) scale(1 0.78)" y="3.5">경남</text><text class="vl" transform="translate(474.0 287.5) scale(1 0.88)" y="3.3">1.6</text>
<rect x="519.2" y="282.5" width="19.6" height="6.3" fill="#fff"/><rect x="516.7" y="296.9" width="23.5" height="4.2" fill="#fff"/><text class="nm" transform="translate(529.0 286.0) scale(1 0.78)" y="3.5">부산</text><text class="vl" transform="translate(528.5 298.5) scale(1 0.88)" y="3.3">22.9</text>
<rect x="386.2" y="249.5" width="19.6" height="6.3" fill="#fff"/><rect x="388.5" y="262.9" width="17.1" height="4.2" fill="#fff"/><text class="nm" transform="translate(396.0 253.0) scale(1 0.78)" y="3.5">전북</text><text class="vl" transform="translate(397.0 264.5) scale(1 0.88)" y="3.3">2.3</text>
<rect x="375.7" y="275.5" width="19.6" height="6.3" fill="#fff"/><rect x="375.5" y="288.4" width="17.1" height="4.2" fill="#fff"/><text class="nm" transform="translate(385.5 279.0) scale(1 0.78)" y="3.5">광주</text><text class="vl" transform="translate(384.0 290.0) scale(1 0.88)" y="3.3">2.9</text>
<rect x="375.2" y="302.0" width="19.6" height="6.3" fill="#fff"/><rect x="380.0" y="315.4" width="10.9" height="4.2" fill="#fff"/><text class="nm" transform="translate(385.0 305.5) scale(1 0.78)" y="3.5">전남</text><text class="vl" transform="translate(385.5 317.0) scale(1 0.88)" y="3.3">-3</text>
<rect x="344.7" y="404.0" width="19.6" height="6.3" fill="#fff"/><rect x="345.0" y="418.4" width="20.9" height="4.2" fill="#fff"/><text class="nm" transform="translate(354.5 407.5) scale(1 0.78)" y="3.5">제주</text><text class="vl" transform="translate(355.5 420.0) scale(1 0.88)" y="3.3">-1.7</text>
</g>
<rect x="25" y="447.8" width="48.5" height="18.4" fill="#1c00dc"/>
<rect x="72.5" y="447.8" width="51.0" height="18.4" fill="#1400f0"/>
<rect x="122.5" y="447.8" width="51.5" height="18.4" fill="#5a5af0"/>
<rect x="173" y="447.8" width="50.5" height="18.4" fill="#a0a0ff"/>
<rect x="222.5" y="447.8" width="46.5" height="18.4" fill="#d2d2ff"/>
<rect x="268" y="447.8" width="52" height="18.4" fill="#fff6dc"/>
<rect x="319" y="447.8" width="53" height="18.4" fill="#ffe6d0"/>
<rect x="371" y="447.8" width="52.5" height="18.4" fill="#ffc8a0"/>
<rect x="422.5" y="447.8" width="52.5" height="18.4" fill="#ff9a45"/>
<rect x="474" y="447.8" width="53" height="18.4" fill="#ff7200"/>
<rect x="526" y="447.8" width="46.5" height="18.4" fill="#e06200"/>
<text class="lg" x="48.8" y="461.5" style="fill:#0c0c5c">하강 4</text>
<text class="lg" x="97.5" y="461.5" style="fill:#0c0c5c">하강 3</text>
<text class="lg" x="147.8" y="461.5">하강 2</text>
<text class="lg" x="197.8" y="461.5">하강 1</text>
<text class="lg" x="245.2" y="461.5" textLength="45" lengthAdjust="spacingAndGlyphs">보합-하강</text>
<text class="lg" x="293.5" y="461.5">보합</text>
<text class="lg" x="345.0" y="461.5" textLength="45" lengthAdjust="spacingAndGlyphs">보합-상승</text>
<text class="lg" x="396.8" y="461.5">상승 1</text>
<text class="lg" x="448.2" y="461.5">상승 2</text>
<text class="lg" x="500.0" y="461.5">상승 3</text>
<text class="lg" x="549.2" y="461.5">상승 4</text>
<text class="tk" x="25" y="480.3">0</text>
<text class="tk" x="72" y="480.3">25</text>
<text class="tk" x="114" y="480.3">50</text>
<text class="tk" x="162" y="480.3">75</text>
<text class="tk" x="207" y="480.3">85</text>
<text class="tk" x="268" y="480.3">95</text>
<text class="tk" x="319" y="480.3">105</text>
<text class="tk" x="370" y="480.3">115</text>
<text class="tk" x="422" y="480.3">125</text>
<text class="tk" x="474" y="480.3">150</text>
<text class="tk" x="525" y="480.3">175</text>
<text class="tk" x="572.7" y="480.3">200</text>
</svg></body></html>
